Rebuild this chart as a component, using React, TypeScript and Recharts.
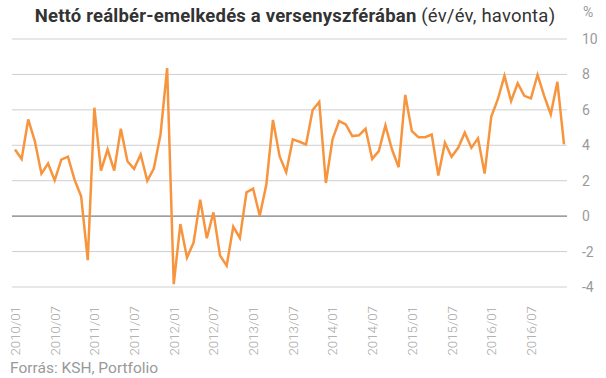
import { LineChart, Line, XAxis, YAxis, CartesianGrid, ReferenceLine } from "recharts";

// havi adatok, 2010/01 - 2016/12
const years = [2010, 2011, 2012, 2013, 2014, 2015, 2016];
const realWageGrowth = [
  3.76, 3.23, 5.46, 4.23, 2.4, 2.97, 2.02, 3.19, 3.36, 2.06, 1.12, -2.48,
  6.12, 2.57, 3.76, 2.57, 4.93, 3.1, 2.67, 3.48, 2.0, 2.7, 4.61, 8.36,
  -3.84, -0.45, -2.34, -1.49, 0.93, -1.25, 0.21, -2.23, -2.8, -0.59, -1.23, 1.34,
  1.55, 0.02, 1.78, 5.43, 3.38, 2.48, 4.33, 4.2, 4.05, 5.99, 6.45, 1.87,
  4.33, 5.37, 5.18, 4.52, 4.56, 4.93, 3.23, 3.67, 5.12, 3.76, 2.76, 6.84,
  4.8, 4.46, 4.46, 4.61, 2.29, 4.14, 3.35, 3.86, 4.71, 3.86, 4.39, 2.4,
  5.61, 6.6, 7.92, 6.5, 7.5, 6.79, 6.65, 7.98, 6.79, 5.75, 7.58, 4.05,
];
const xTicks = [
  "2010/01", "2010/07", "2011/01", "2011/07", "2012/01", "2012/07", "2013/01",
  "2013/07", "2014/01", "2014/07", "2015/01", "2015/07", "2016/01", "2016/07",
];
const yTicks = [-4, -2, 0, 2, 4, 6, 8, 10];

const months = years.flatMap((y) =>
  Array.from({ length: 12 }, (_, m) => `${y}/${String(m + 1).padStart(2, "0")}`)
);
const data = months.map((month, i) => ({ month, value: realWageGrowth[i] }));

const font = "Roboto, 'Open Sans', sans-serif";

function MonthTick({ x, y, payload }: any) {
  return (
    <text
      transform={`translate(${x + 5},${y + 11}) rotate(-90)`}
      textAnchor="end"
      fill="#a5a5a5"
      fontSize={13.3}
      fontWeight={300}
      fontFamily={font}
    >
      {payload.value}
    </text>
  );
}

export default function App() {
  return (
    <div style={{ position: "absolute", left: 0, top: 0, width: 606, height: 378, background: "#fff", fontFamily: font }}>
      <div
        style={{
          position: "absolute",
          top: 5,
          left: 0,
          width: 590,
          textAlign: "center",
          fontSize: 18.5,
          color: "#333",
          letterSpacing: 0.2,
          whiteSpace: "nowrap",
        }}
      >
        <b>Nettó reálbér-emelkedés a versenyszférában</b> (év/év, havonta)
      </div>
      <div style={{ position: "absolute", top: 4, left: 583, fontSize: 14, color: "#999" }}>%</div>
      <LineChart width={606} height={378} data={data} margin={{ top: 39, right: 0, bottom: 0, left: 12 }}>
        <CartesianGrid vertical={false} stroke="#cfcfcf" />
        <XAxis
          dataKey="month"
          ticks={xTicks}
          interval={0}
          axisLine={false}
          tickLine={false}
          height={91}
          padding={{ left: 3, right: 3 }}
          tick={<MonthTick />}
        />
        <YAxis
          orientation="right"
          domain={[-4, 10]}
          ticks={yTicks}
          axisLine={false}
          tickLine={false}
          width={39}
          tickMargin={9}
          tick={{ fill: "#9a9a9a", fontSize: 14, fontFamily: font, textAnchor: "start" }}
        />
        <ReferenceLine y={0} stroke="#8a8a8a" strokeWidth={1.2} />
        <Line
          type="linear"
          dataKey="value"
          stroke="#f7953f"
          strokeWidth={2.5}
          dot={false}
          isAnimationActive={false}
        />
      </LineChart>
      <div style={{ position: "absolute", top: 359, left: 10, fontSize: 15.5, color: "#999" }}>Forrás: KSH, Portfolio</div>
    </div>
  );
}
